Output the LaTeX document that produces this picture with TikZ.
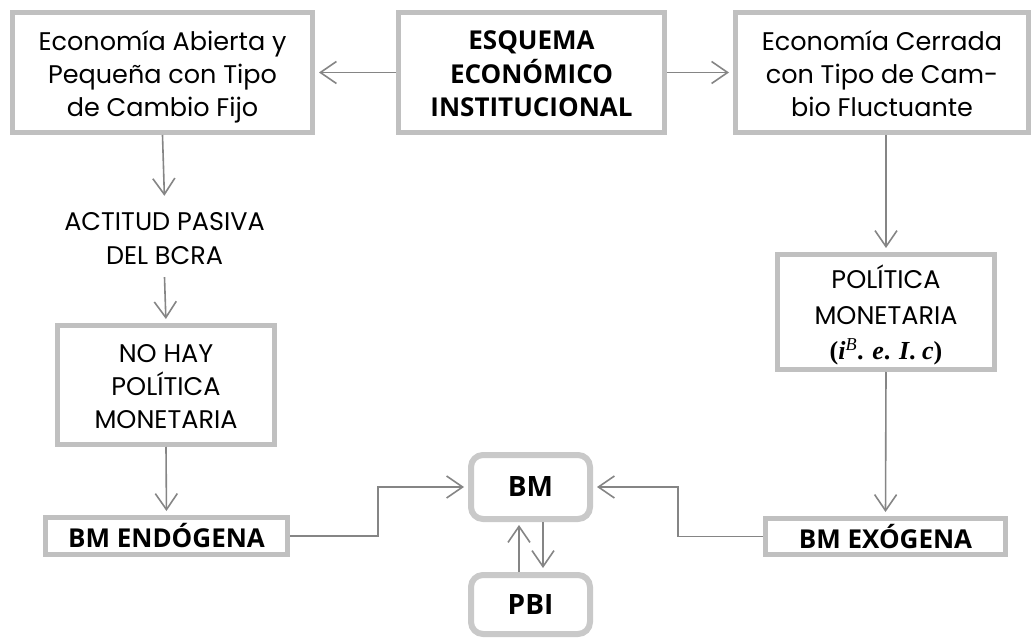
\documentclass[tikz,border=0pt]{standalone}
\usepackage{fontspec}
\setmainfont{Poppins}
\newfontfamily\bsans{Open Sans}
\newfontfamily\tnr{Liberation Serif}
\usetikzlibrary{arrows.meta}
\definecolor{boxgray}{HTML}{C0C0C0}
\definecolor{linegray}{HTML}{858585}
\newcommand{\lowered}[2]{\raisebox{-#1}[\height][\depth]{\begin{tabular}{@{}c@{}}#2\end{tabular}}}
\tikzset{
  sqbox/.style={draw=boxgray, line width=5pt, fill=white, inner sep=0pt, align=center,
    font=\fontsize{25.5}{33}\selectfont},
  boldbox/.style={sqbox, font=\bsans\bfseries\fontsize{26}{33}\selectfont},
  rbox/.style={draw=boxgray!85, line width=6pt, rounded corners=12pt, fill=white, inner sep=0pt,
    font=\bsans\bfseries\fontsize{28}{30}\selectfont},
  conn/.style={draw=linegray, line width=1.6pt, -{Straight Barb[length=16pt,width=22pt]}, shorten >=4pt},
}
\begin{document}
\begin{tikzpicture}[x=1pt,y=-1pt]
\useasboundingbox (0,0) rectangle (1034,639);
\node[sqbox, minimum width=300, minimum height=120] (A) at (162.5,72.5)
  {\lowered{4pt}{Economía Abierta y\\Pequeña con Tipo\\de Cambio Fijo}};
\node[boldbox, minimum width=266, minimum height=120] (S) at (531.5,72.5)
  {\lowered{4pt}{ESQUEMA\\ECONÓMICO\\INSTITUCIONAL}};
\node[sqbox, minimum width=293, minimum height=120] (C) at (882,72.5)
  {\lowered{4pt}{Economía Cerrada\\con Tipo de Cam-\\bio Fluctuante}};
\node[align=center, inner sep=0pt, minimum height=77, font=\fontsize{25.5}{34}\selectfont] (T) at (164.5,238.5)
  {ACTITUD PASIVA\\DEL BCRA};
\node[sqbox, minimum width=217, minimum height=119] (N) at (166,385)
  {\lowered{4pt}{NO HAY\\POLÍTICA\\MONETARIA}};
\node[sqbox, minimum width=242, minimum height=37, font=\bsans\bfseries\fontsize{26}{28}\selectfont] (E1) at (166.5,536)
  {BM ENDÓGENA};
\node[sqbox, minimum width=217, minimum height=115, font=\fontsize{25.5}{35.5}\selectfont] (P) at (886,312)
  {\lowered{5pt}{POLÍTICA\\MONETARIA\\{\tnr\bfseries\fontsize{26}{30}\selectfont (\textit{i}\textsuperscript{\mdseries\textit{B}}. \textit{e}. \textit{I}. \textit{c})}}};
\node[sqbox, minimum width=240, minimum height=36, font=\bsans\bfseries\fontsize{26}{28}\selectfont] (E2) at (885.5,536.5)
  {BM EXÓGENA};
\node[rbox, minimum width=119, minimum height=64] (BM) at (530.5,487) {BM};
\node[rbox, minimum width=119, minimum height=59] (PBI) at (530.5,604.5) {PBI};

\draw[conn] (S.west) -- (A.east);
\draw[conn] (S.east) -- (C.west);
\draw[conn] (A.south) -- (T.north);
\draw[conn] (T.south) -- (N.north);
\draw[conn] (N.south) -- (E1.north);
\draw[conn] (C.south -| P.north) -- (P.north);
\draw[conn] (P.south) -- (E2.north);
\draw[conn] (E1.east) -- ++(88,0) |- (BM.west);
\draw[conn] (E2.west) -- ++(-85,0) |- (BM.east);
\draw[conn, shorten <=0pt] ([xshift=12.5pt]BM.south) -- ([xshift=12.5pt]PBI.north);
\draw[conn, shorten >=3pt] ([xshift=-11.5pt]PBI.north) -- ([xshift=-11.5pt]BM.south);
\end{tikzpicture}
\end{document}
